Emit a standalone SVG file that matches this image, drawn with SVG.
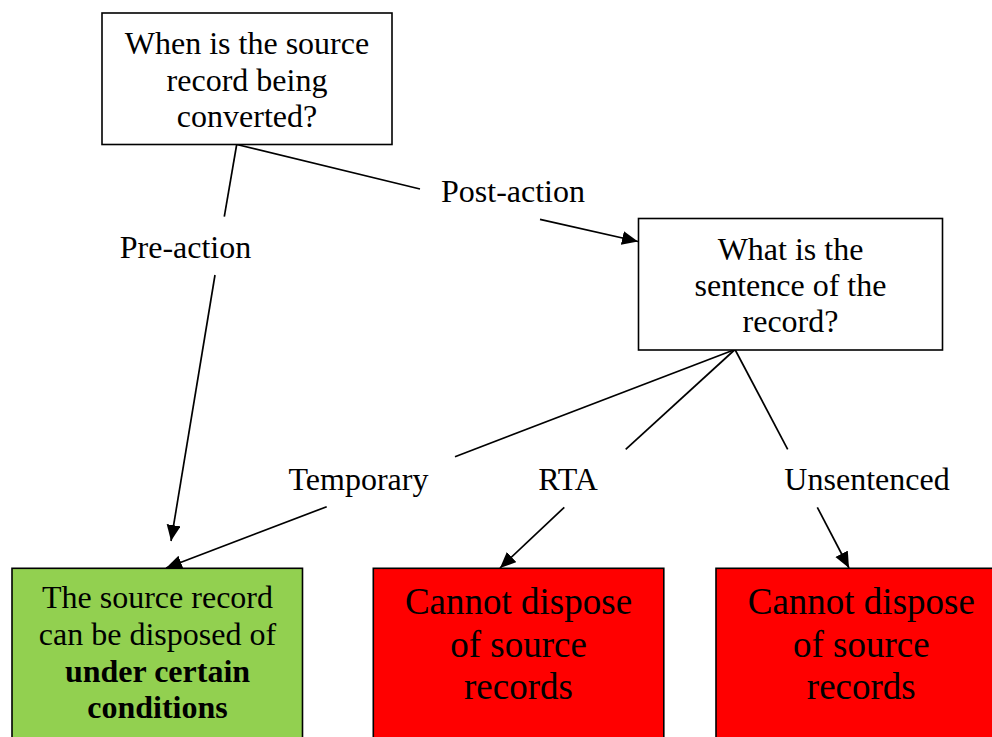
<svg xmlns="http://www.w3.org/2000/svg" width="992" height="737" viewBox="0 0 992 737">
<defs>
<style>
.box{stroke:#000;stroke-width:1.6}
.t{font-family:"Liberation Serif","Times New Roman",serif;font-size:32px;fill:#000;text-anchor:middle}
.big{font-size:37px}
.b{font-weight:bold}
.c{fill:none;stroke:#000;stroke-width:1.7}
</style>
<marker id="arr" markerUnits="userSpaceOnUse" markerWidth="18" markerHeight="16" refX="16" refY="7" orient="auto">
<path d="M0,0 L16,7 L0,14 z" fill="#000"/>
</marker>
</defs>
<rect width="992" height="737" fill="#fff"/>
<g id="connectors">
<line class="c" x1="236.7" y1="144.5" x2="224.3" y2="216.7"/>
<line class="c" x1="215" y1="275" x2="171" y2="541" marker-end="url(#arr)"/>
<line class="c" x1="236.7" y1="144.5" x2="420" y2="189"/>
<line class="c" x1="540" y1="219.3" x2="638" y2="241.5" marker-end="url(#arr)"/>
<line class="c" x1="735" y1="349.5" x2="455" y2="456.7"/>
<line class="c" x1="326.7" y1="506.7" x2="166" y2="568" marker-end="url(#arr)"/>
<line class="c" x1="735" y1="349.5" x2="625.7" y2="449.3"/>
<line class="c" x1="564.3" y1="507.3" x2="500" y2="568" marker-end="url(#arr)"/>
<line class="c" x1="735" y1="349.5" x2="787.7" y2="449.3"/>
<line class="c" x1="817.3" y1="507.3" x2="849" y2="568" marker-end="url(#arr)"/>
<text class="t" x="185.5" y="258">Pre-action</text>
<text class="t" x="513" y="201.5">Post-action</text>
<text class="t" x="358.5" y="490">Temporary</text>
<text class="t" x="568" y="490">RTA</text>
<text class="t" x="867" y="490">Unsentenced</text>
</g>
<g id="q1">
<rect class="box" x="102" y="13" width="290" height="131.5" fill="#fff"/>
<text class="t" x="247" y="54">When is the source</text>
<text class="t" x="247" y="90.5">record being</text>
<text class="t" x="247" y="127">converted?</text>
</g>
<g id="q2">
<rect class="box" x="638.5" y="218.5" width="304" height="131.5" fill="#fff"/>
<text class="t" x="790.5" y="260">What is the</text>
<text class="t" x="790.5" y="296">sentence of the</text>
<text class="t" x="790.5" y="332">record?</text>
</g>
<g id="dispose">
<rect class="box" x="12" y="568.3" width="290.5" height="190" fill="#92D050"/>
<text class="t" x="157.5" y="608">The source record</text>
<text class="t" x="157.5" y="645">can be disposed of</text>
<text class="t b" x="157.5" y="682">under certain</text>
<text class="t b" x="157.5" y="718">conditions</text>
</g>
<g id="rta">
<rect class="box" x="373.3" y="568.3" width="290.5" height="190" fill="#FF0000"/>
<text class="t big" x="518.5" y="614">Cannot dispose</text>
<text class="t big" x="518.5" y="656.5">of source</text>
<text class="t big" x="518.5" y="699">records</text>
</g>
<g id="unsentenced">
<rect class="box" x="716" y="568.3" width="290.5" height="190" fill="#FF0000"/>
<text class="t big" x="861.3" y="614">Cannot dispose</text>
<text class="t big" x="861.3" y="656.5">of source</text>
<text class="t big" x="861.3" y="699">records</text>
</g>
</svg>
